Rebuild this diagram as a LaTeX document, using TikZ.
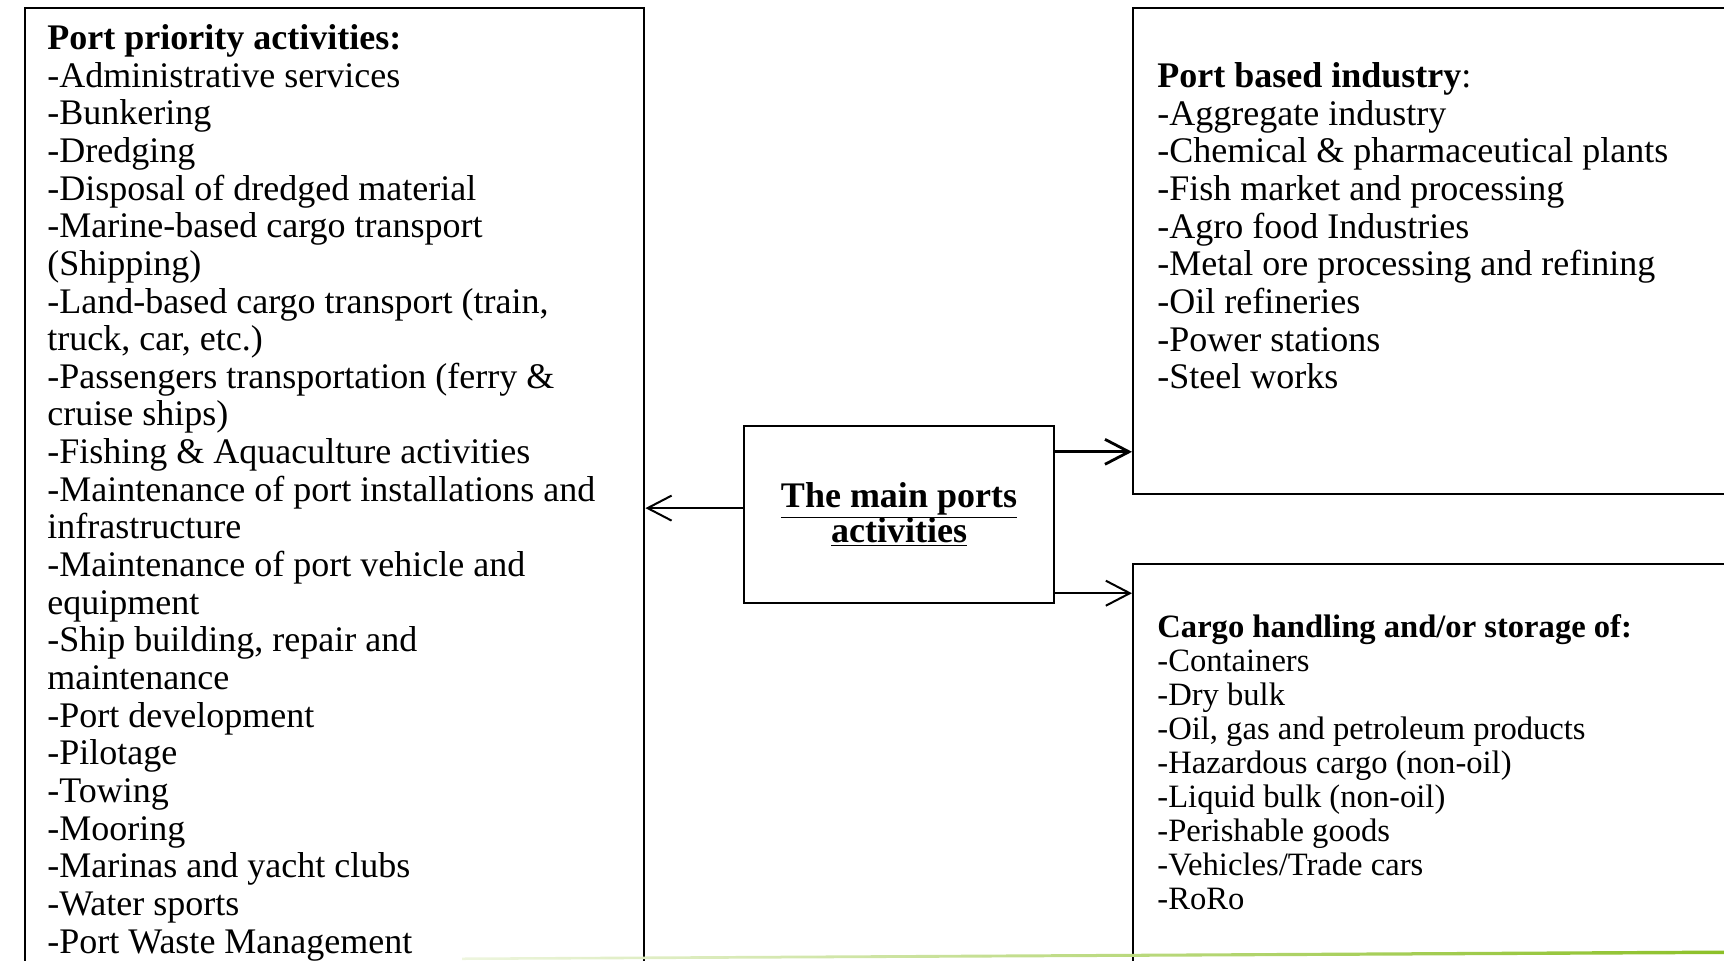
\documentclass[tikz,border=0pt]{standalone}
\usepackage{fontspec}
\setmainfont{Liberation Serif}
\usetikzlibrary{arrows.meta}
\definecolor{slidegreen}{RGB}{140,192,40}

\begin{document}
\begin{tikzpicture}[x=0.5pt,y=-0.5pt,
    box/.style={draw,line width=1.2pt,inner sep=0pt,anchor=north west},
    listtxt/.style={anchor=north west,inner sep=0pt,align=left,
      font=\fontsize{18}{18.83}\selectfont},
    >={Straight Barb[length=12pt,width=12.5pt]}]
  \useasboundingbox (0,0) rectangle (1724,960);

  % the four boxes
  \node[box,minimum width=309.5pt,minimum height=500pt] (priority) at (24,7) {};
  \node[box,minimum width=340pt,minimum height=243pt] (industry) at (1132,7) {};
  \node[box,minimum width=340pt,minimum height=220pt] (cargo) at (1132,563) {};
  \node[draw,line width=1.2pt,minimum width=155pt,minimum height=88.5pt,
    align=center,font=\fontsize{18}{18}\selectfont\bfseries] (main) at (899,514.5)
    {\underline{The main ports}\\[-1.5pt]\underline{activities}};

  % lists
  \node[listtxt] (prioritytxt) at (47,24) {\textbf{Port priority activities:}\\
    -Administrative services\\
    -Bunkering\\
    -Dredging\\
    -Disposal of dredged material\\
    -Marine-based cargo transport\\
    (Shipping)\\
    -Land-based cargo transport (train,\\
    truck, car, etc.)\\
    -Passengers transportation (ferry \&\\
    cruise ships)\\
    -Fishing \& Aquaculture activities\\
    -Maintenance of port installations and\\
    infrastructure\\
    -Maintenance of port vehicle and\\
    equipment\\
    -Ship building, repair and\\
    maintenance\\
    -Port development\\
    -Pilotage\\
    -Towing\\
    -Mooring\\
    -Marinas and yacht clubs\\
    -Water sports\\
    -Port Waste Management};
  \node[listtxt] (industrytxt) at (1157,62) {\textbf{Port based industry}:\\
    -Aggregate industry\\
    -Chemical \& pharmaceutical plants\\
    -Fish market and processing\\
    -Agro food Industries\\
    -Metal ore processing and refining\\
    -Oil refineries\\
    -Power stations\\
    -Steel works};
  \node[listtxt,font=\fontsize{16.3}{17}\selectfont] (cargotxt) at (1157,614)
    {\textbf{Cargo handling and/or storage of:}\\
    -Containers\\
    -Dry bulk\\
    -Oil, gas and petroleum products\\
    -Hazardous cargo (non-oil)\\
    -Liquid bulk (non-oil)\\
    -Perishable goods\\
    -Vehicles/Trade cars\\
    -RoRo};

  % arrows
  \coordinate (l) at ([yshift=3.2pt]main.west);
  \coordinate (ru) at ([yshift=-13.5pt]main.north east);
  \coordinate (rd) at ([yshift=5.5pt]main.south east);
  \draw[->,line width=1pt] (l) -- (l -| priority.east);
  \draw[->,line width=1.4pt] (ru) -- (ru -| industry.west);
  \draw[->,line width=1pt] (rd) -- (rd -| cargo.west);

  % slide line
  \shade[left color=slidegreen!15,right color=slidegreen]
    (462,957.5) -- (1724,950.5) -- (1724,954) -- (462,960) -- cycle;
\end{tikzpicture}
\end{document}
